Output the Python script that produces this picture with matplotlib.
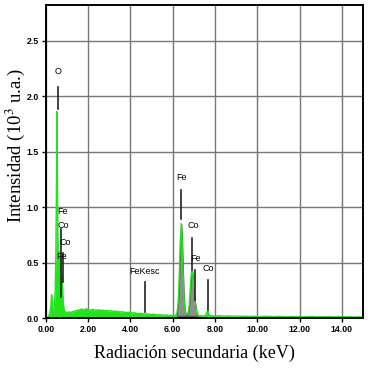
import matplotlib
matplotlib.use("Agg")
import matplotlib.pyplot as plt
import numpy as np

plt.rcParams["mathtext.fontset"] = "stix"

# espectro EDS (energia en keV, intensidad en 10^3 u.a.)
energia_baja = [0.00, 0.04, 0.10, 0.16, 0.20, 0.24, 0.27, 0.29, 0.32, 0.36, 0.40, 0.44,
                0.47, 0.50, 0.52, 0.54, 0.56, 0.58, 0.60, 0.62, 0.64, 0.66, 0.68, 0.70,
                0.72, 0.74, 0.76, 0.78, 0.80, 0.83, 0.86, 0.90, 0.95]
cuentas_baja = [0.00, 0.00, 0.01, 0.03, 0.06, 0.12, 0.21, 0.18, 0.08, 0.06, 0.10, 0.25,
                0.55, 1.20, 1.86, 1.45, 0.80, 0.55, 0.58, 0.50, 0.60, 0.56, 0.48, 0.55,
                0.50, 0.42, 0.30, 0.36, 0.22, 0.12, 0.08, 0.06, 0.05]

energia_fondo = [1.0, 1.1, 1.2, 1.3, 1.4, 1.5, 1.6, 1.7, 1.8, 1.9, 2.0, 2.1, 2.2, 2.3, 2.4,
                 2.5, 2.6, 2.7, 2.8, 2.9, 3.0, 3.1, 3.2, 3.3, 3.4, 3.5, 3.6, 3.7, 3.8, 3.9,
                 4.0, 4.1, 4.2, 4.3, 4.4, 4.5, 4.6, 4.7, 4.8, 4.9, 5.0, 5.1, 5.2, 5.3, 5.4,
                 5.5, 5.6, 5.7, 5.8, 5.9, 6.0]
cuentas_fondo = [0.050, 0.055, 0.050, 0.060, 0.065, 0.070, 0.075, 0.082, 0.070, 0.085,
                 0.075, 0.070, 0.078, 0.072, 0.070, 0.075, 0.068, 0.070, 0.065, 0.068,
                 0.062, 0.065, 0.060, 0.062, 0.058, 0.055, 0.057, 0.052, 0.050, 0.052,
                 0.048, 0.045, 0.047, 0.042, 0.040, 0.042, 0.038, 0.036, 0.038, 0.034,
                 0.032, 0.034, 0.030, 0.028, 0.030, 0.027, 0.025, 0.026, 0.024, 0.022,
                 0.024]

# picos K de Fe y Co (zona gris)
energia_k = [6.10, 6.16, 6.20, 6.24, 6.28, 6.32, 6.36, 6.40, 6.44, 6.48, 6.52, 6.56, 6.60,
             6.66, 6.72, 6.76, 6.80, 6.84, 6.88, 6.92, 6.96, 7.00, 7.04, 7.08, 7.12, 7.18,
             7.26]
cuentas_k = [0.020, 0.030, 0.050, 0.100, 0.220, 0.450, 0.700, 0.850, 0.720, 0.450, 0.220,
             0.100, 0.050, 0.030, 0.040, 0.080, 0.160, 0.300, 0.400, 0.430, 0.360, 0.220,
             0.160, 0.120, 0.060, 0.030, 0.020]

energia_alta = [7.35, 7.45, 7.55, 7.60, 7.65, 7.70, 7.75, 7.85, 8.0, 8.2, 8.4, 8.6, 8.8,
                9.0, 9.2, 9.4, 9.6, 9.8, 10.0, 10.2, 10.4, 10.6, 10.8, 11.0, 11.2, 11.4,
                11.6, 11.8, 12.0, 12.2, 12.4, 12.6, 12.8, 13.0, 13.2, 13.4, 13.6, 13.8,
                14.0, 14.2, 14.4, 14.6, 14.8, 15.0]
cuentas_alta = [0.022, 0.018, 0.024, 0.045, 0.070, 0.040, 0.022, 0.020, 0.018, 0.021,
                0.017, 0.019, 0.016, 0.018, 0.015, 0.017, 0.014, 0.016, 0.015, 0.013,
                0.016, 0.014, 0.012, 0.015, 0.013, 0.011, 0.014, 0.012, 0.013, 0.011,
                0.012, 0.014, 0.010, 0.012, 0.011, 0.013, 0.010, 0.012, 0.011, 0.010,
                0.012, 0.009, 0.011, 0.010]

energia = np.array(energia_baja + energia_fondo + energia_k + energia_alta)
cuentas = np.array(cuentas_baja + cuentas_fondo + cuentas_k + cuentas_alta)

# etiquetas de los picos y sus marcas verticales
etiquetas = ["O", "Fe", "Co", "Co", "Fe", "FeKesc", "Fe", "Co", "Fe", "Co"]
etq_x = [0.57, 0.80, 0.80, 0.90, 0.72, 4.67, 6.41, 6.98, 7.07, 7.69]
etq_y = [2.22, 0.96, 0.83, 0.68, 0.55, 0.42, 1.27, 0.83, 0.54, 0.45]
lin_x = [0.57, None, None, 0.71, 0.80, 4.67, 6.41, 6.93, 7.07, 7.69]
lin_y0 = [1.88, None, None, 0.19, 0.32, 0.05, 0.89, 0.43, 0.16, 0.07]
lin_y1 = [2.08, None, None, 0.80, 0.59, 0.32, 1.15, 0.72, 0.43, 0.34]

verde = "#22e41c"

fig = plt.figure(figsize=(3.7, 3.7), dpi=100)
ax = fig.add_axes([0.124, 0.1405, 0.857, 0.846])

ax.fill_between(energia, cuentas, 0, color=verde, lw=0)
ax.plot(energia, cuentas, color=verde, lw=1.0)

mask = (energia >= 6.2) & (energia <= 7.2)
ax.fill_between(energia[mask], cuentas[mask], 0.02, color="#8e8e8e",
                edgecolor="#555555", lw=0.8)

for i, t in enumerate(etiquetas):
    ax.text(etq_x[i], etq_y[i], t, ha="center", va="center", fontsize=6.5,
            family="Liberation Sans")
    if lin_x[i] is not None:
        ax.plot([lin_x[i], lin_x[i]], [lin_y0[i], lin_y1[i]], color="#222222", lw=1.2)

ax.set_xlim(0, 15)
ax.set_ylim(0, 2.82)
ax.set_xticks(np.arange(0, 15, 2))
ax.set_xticklabels(["%.2f" % v for v in np.arange(0, 15, 2)])
ax.set_yticks(np.arange(0, 2.6, 0.5))
ax.set_yticklabels(["%.1f" % v for v in np.arange(0, 2.6, 0.5)])
ax.grid(True, color="#777777", lw=1.0)
ax.set_axisbelow(True)
for s in ax.spines.values():
    s.set_linewidth(1.4)
ax.tick_params(labelsize=6.3, length=3, width=1, pad=2)
for lab in ax.get_xticklabels() + ax.get_yticklabels():
    lab.set_fontweight("bold")
    lab.set_family("Liberation Sans")

ax.set_xlabel("Radiación secundaria (keV)", family="Liberation Serif", fontsize=13)
ax.set_ylabel("Intensidad (10$^3$ u.a.)", family="Liberation Serif", fontsize=13.5)
ax.xaxis.set_label_coords(0.47, -0.085)
ax.yaxis.set_label_coords(-0.058, 0.55)

fig.savefig("out.png", dpi=100)
